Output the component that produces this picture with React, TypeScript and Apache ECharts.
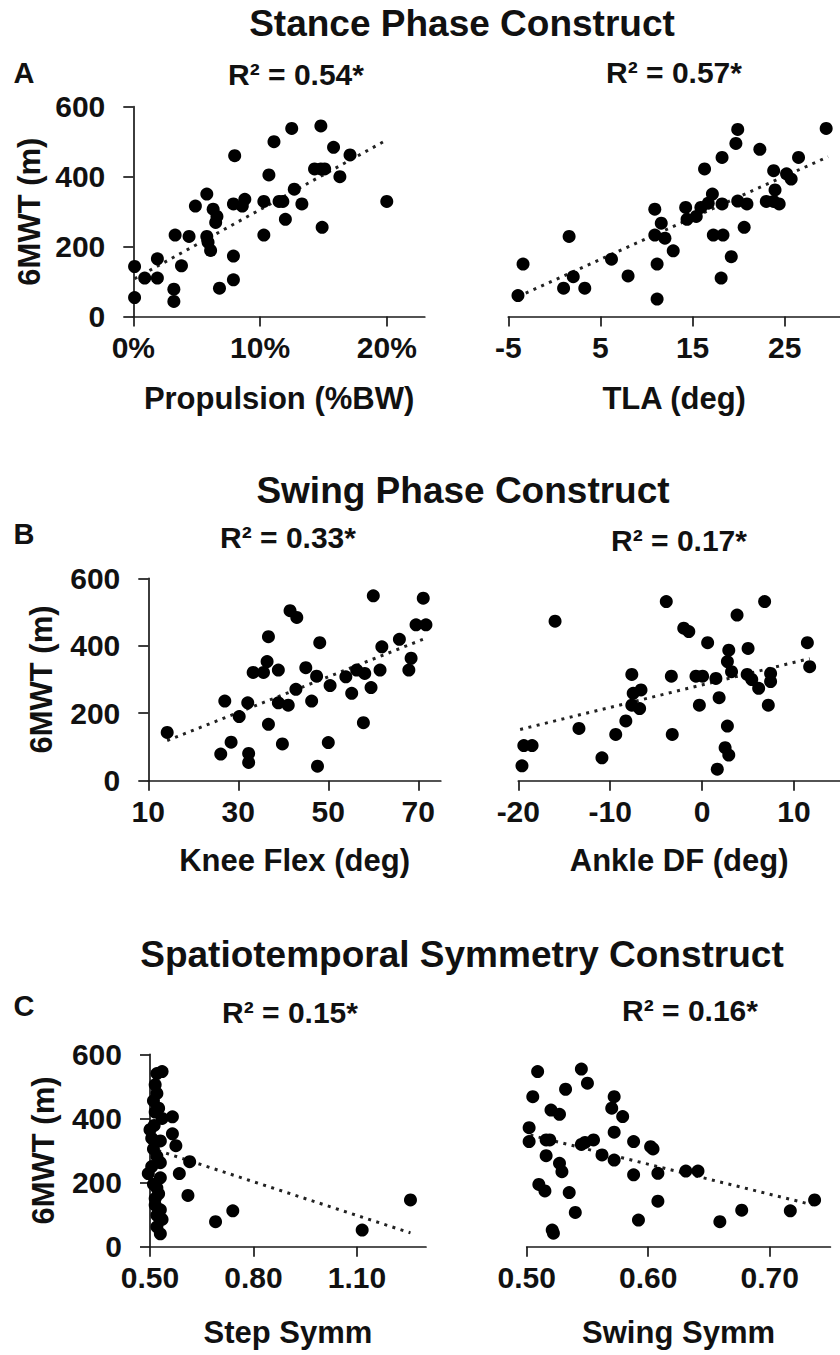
import React, { useEffect, useRef } from "react";
import * as echarts from "echarts";

// ---------- data (x, 6MWT in m) ----------
const propulsion: number[][] = [
  [0.1, 143], [0.1, 54], [0.9, 110], [1.9, 110], [1.9, 165], [3.2, 78], [3.2, 43], [3.3, 233],
  [3.8, 145], [4.4, 229], [4.9, 316], [5.8, 350], [5.8, 229], [5.9, 212], [6.1, 189], [6.3, 307],
  [6.6, 286], [6.5, 269], [6.8, 81], [7.9, 105], [7.9, 173], [8.0, 460], [7.9, 322], [8.6, 316],
  [8.8, 335], [10.3, 329], [10.3, 233], [10.7, 405], [11.1, 500], [11.5, 329], [11.8, 329], [12.0, 278],
  [12.5, 538], [12.7, 364], [13.3, 322], [14.3, 422], [14.8, 422], [15.1, 422], [14.8, 545], [14.9, 255],
  [15.8, 484], [16.3, 400], [17.1, 462], [20.0, 329],
];
const propulsionTrend: number[][] = [[0.1, 108], [20.0, 505]];

const tla: number[][] = [
  [-3.95, 60], [-3.4, 150], [1.0, 81], [1.6, 229], [2.05, 114], [3.3, 81], [6.2, 164], [8.0, 116],
  [10.9, 307], [10.9, 233], [11.15, 150], [11.15, 50], [11.6, 267], [12.0, 224], [12.9, 188], [14.25, 312],
  [14.4, 278], [15.4, 286], [15.9, 312], [16.3, 422], [16.7, 324], [17.15, 350], [17.25, 233], [18.2, 455],
  [18.2, 322], [18.3, 233], [18.1, 110], [19.2, 171], [19.7, 495], [19.9, 535], [19.9, 330], [20.6, 255],
  [20.9, 322], [22.3, 478], [23.0, 329], [23.8, 417], [23.95, 362], [23.8, 329], [24.4, 322], [25.2, 408],
  [25.7, 393], [26.5, 455], [29.5, 538],
];
const tlaTrend: number[][] = [[-3.95, 57], [29.7, 457]];

const kneeFlex: number[][] = [
  [14.2, 143], [26.1, 79], [27.0, 236], [28.4, 114], [30.2, 190], [32.1, 231], [32.3, 81], [32.3, 54],
  [33.3, 321], [35.6, 321], [36.4, 353], [36.7, 427], [36.7, 167], [38.9, 328], [38.9, 231], [39.8, 109],
  [41.1, 224], [41.5, 504], [43.0, 484], [42.8, 271], [45.0, 335], [46.3, 236], [47.4, 310], [47.6, 43],
  [48.1, 409], [50.0, 113], [50.4, 282], [53.9, 308], [55.2, 259], [56.3, 328], [57.8, 172], [58.1, 318],
  [59.5, 276], [60.0, 548], [61.5, 328], [61.9, 397], [65.8, 419], [67.9, 328], [68.4, 363], [69.5, 462],
  [71.7, 462], [71.1, 541],
];
const kneeFlexTrend: number[][] = [[14.2, 119], [71.6, 422]];

const ankleDF: number[][] = [
  [-19.6, 44], [-19.4, 104], [-18.5, 104], [-16.0, 473], [-13.4, 155], [-10.9, 68], [-9.4, 137], [-8.3, 177],
  [-7.65, 315], [-7.5, 259], [-6.65, 269], [-7.65, 224], [-6.8, 214], [-3.9, 531], [-3.35, 310], [-3.25, 137],
  [-2.0, 452], [-1.45, 442], [-0.67, 310], [0.05, 310], [-0.3, 224], [0.6, 409], [1.5, 303], [1.85, 246],
  [1.65, 34], [2.5, 98], [2.75, 162], [2.9, 76], [2.9, 387], [2.75, 353], [3.2, 323], [3.8, 491],
  [5.0, 392], [4.9, 315], [5.4, 300], [6.15, 274], [6.8, 531], [7.2, 224], [7.45, 318], [7.45, 294],
  [11.45, 409], [11.7, 338],
];
const ankleDFTrend: number[][] = [[-19.8, 152], [11.7, 362]];

const stepSymm: number[][] = [
  [0.52, 540], [0.535, 546], [0.515, 505], [0.52, 478], [0.51, 455], [0.525, 432], [0.515, 420], [0.535, 400],
  [0.565, 405], [0.5, 365], [0.512, 378], [0.565, 352], [0.505, 338], [0.53, 330], [0.575, 315], [0.51, 305],
  [0.52, 282], [0.53, 262], [0.505, 250], [0.615, 265], [0.495, 228], [0.585, 228], [0.53, 215], [0.51, 195],
  [0.52, 183], [0.525, 165], [0.515, 150], [0.61, 160], [0.53, 115], [0.515, 130], [0.52, 98], [0.535, 85],
  [0.53, 40], [0.52, 62], [0.69, 78], [0.74, 112], [1.115, 52], [1.255, 146],
];
const stepSymmTrend: number[][] = [[0.5, 308], [1.255, 43]];

const swingSymm: number[][] = [
  [0.509, 546], [0.545, 554], [0.55, 510], [0.532, 491], [0.505, 468], [0.52, 426], [0.527, 413], [0.572, 468],
  [0.57, 432], [0.579, 406], [0.502, 371], [0.502, 328], [0.516, 333], [0.519, 333], [0.545, 319], [0.548, 325],
  [0.555, 333], [0.572, 357], [0.516, 284], [0.562, 286], [0.572, 270], [0.588, 328], [0.602, 312], [0.604, 305],
  [0.527, 260], [0.529, 234], [0.588, 224], [0.608, 229], [0.631, 236], [0.641, 236], [0.51, 194], [0.515, 174],
  [0.535, 169], [0.54, 107], [0.608, 142], [0.592, 83], [0.521, 52], [0.522, 42], [0.659, 78], [0.677, 114],
  [0.717, 112], [0.737, 146],
];
const swingSymmTrend: number[][] = [[0.503, 348], [0.736, 130]];

const propTicks = [0, 10, 20];
const tlaTicks = [-5, 5, 15, 25];
const kneeTicks = [10, 30, 50, 70];
const ankleTicks = [-20, -10, 0, 10];
const stepTicks = [0.5, 0.8, 1.1];
const swingTicks = [0.5, 0.6, 0.7];

const constructTitles = ["Stance Phase Construct", "Swing Phase Construct", "Spatiotemporal Symmetry Construct"];
const panelLetters = ["A", "B", "C"];
const r2Labels = ["R² = 0.54*", "R² = 0.57*", "R² = 0.33*", "R² = 0.17*", "R² = 0.15*", "R² = 0.16*"];
const xNames = ["Propulsion (%BW)", "TLA (deg)", "Knee Flex (deg)", "Ankle DF (deg)", "Step Symm", "Swing Symm"];
const yName = "6MWT (m)";

const FONT = '"Liberation Sans", Arial, Helvetica, sans-serif';
const INK = "#111";

type Panel = {
  data: number[][];
  trend: number[][];
  min: number;
  max: number;
  ticks: number[];
  fmt: (v: number) => string;
  grid: { left: number; top: number; width: number; height: number };
  showY: boolean;
  xGap: number;
  yGap: number;
};

const panels: Panel[] = [
  { data: propulsion, trend: propulsionTrend, min: 0, max: 23, ticks: propTicks, fmt: (v) => `${v}%`,
    grid: { left: 133.3, top: 106.7, width: 291.5, height: 209.8 }, showY: true, xGap: 66, yGap: 88 },
  { data: tla, trend: tlaTrend, min: -5, max: 31, ticks: tlaTicks, fmt: (v) => `${v}`,
    grid: { left: 508.3, top: 106.7, width: 344, height: 209.8 }, showY: false, xGap: 66, yGap: 88 },
  { data: kneeFlex, trend: kneeFlexTrend, min: 10, max: 75, ticks: kneeTicks, fmt: (v) => `${v}`,
    grid: { left: 148.3, top: 578.3, width: 292.5, height: 202.4 }, showY: true, xGap: 64, yGap: 91 },
  { data: ankleDF, trend: ankleDFTrend, min: -20, max: 15, ticks: ankleTicks, fmt: (v) => `${v}`,
    grid: { left: 518.3, top: 578.3, width: 325.9, height: 202.4 }, showY: false, xGap: 64, yGap: 91 },
  { data: stepSymm, trend: stepSymmTrend, min: 0.5, max: 1.3, ticks: stepTicks, fmt: (v) => v.toFixed(2),
    grid: { left: 150, top: 1054.3, width: 276, height: 192.4 }, showY: true, xGap: 70, yGap: 91 },
  { data: swingSymm, trend: swingSymmTrend, min: 0.5, max: 0.75, ticks: swingTicks, fmt: (v) => v.toFixed(2),
    grid: { left: 526.7, top: 1054.3, width: 303.7, height: 192.4 }, showY: false, xGap: 70, yGap: 91 },
];

const titlePos = [[462, 23], [463, 490], [462, 954]];
const letterPos = [[24, 73], [24, 534], [24, 1006]];
const r2Pos = [[296, 74], [674, 72], [288, 537], [679, 540], [290, 1012], [690, 1010]];

function textEl(text: string, x: number, y: number, size: number) {
  return {
    type: "text",
    x,
    y,
    silent: true,
    style: {
      text,
      fill: INK,
      font: `bold ${size}px ${FONT}`,
      fontSize: size,
      fontWeight: "bold",
      fontFamily: FONT,
      align: "center",
      verticalAlign: "middle",
      textAlign: "center",
      textVerticalAlign: "middle",
    },
  };
}

function buildOption() {
  const axisLineStyle = { color: "#1a1a1a", width: 1.7 };
  const labelStyle = { color: INK, fontFamily: FONT, fontWeight: "bold" as const, fontSize: 30 };
  const nameStyle = { color: INK, fontFamily: FONT, fontWeight: "bold" as const, fontSize: 31 };

  const xAxis = panels.map((p, i) => ({
    type: "value",
    gridIndex: i,
    min: p.min,
    max: p.max,
    name: xNames[i],
    nameLocation: "middle",
    nameGap: p.xGap,
    nameTextStyle: nameStyle,
    axisLine: { show: true, onZero: false, lineStyle: axisLineStyle },
    axisTick: { show: true, length: 10, inside: false, lineStyle: axisLineStyle, customValues: p.ticks },
    axisLabel: { show: true, margin: 16, ...labelStyle, customValues: p.ticks, formatter: (v: number) => p.fmt(v) },
    splitLine: { show: false },
  }));

  const yAxis = panels.map((p, i) => ({
    type: "value",
    gridIndex: i,
    min: 0,
    max: 600,
    interval: 200,
    show: p.showY,
    name: p.showY ? yName : "",
    nameLocation: "middle",
    nameRotate: 90,
    nameGap: p.yGap,
    nameTextStyle: nameStyle,
    axisLine: { show: true, lineStyle: axisLineStyle },
    axisTick: { show: true, length: 10, lineStyle: axisLineStyle },
    axisLabel: { show: true, margin: 28, ...labelStyle },
    splitLine: { show: false },
  }));

  const series: any[] = [];
  panels.forEach((p, i) => {
    series.push({
      type: "line",
      xAxisIndex: i,
      yAxisIndex: i,
      data: p.trend,
      symbol: "none",
      silent: true,
      z: 1,
      lineStyle: { color: "#222", width: 3, type: [3, 5.5], cap: "butt" },
    });
    series.push({
      type: "scatter",
      xAxisIndex: i,
      yAxisIndex: i,
      data: p.data,
      symbol: "circle",
      symbolSize: 13,
      clip: false,
      silent: true,
      z: 2,
      itemStyle: { color: "#000", opacity: 1 },
    });
  });

  const graphic: any[] = [];
  constructTitles.forEach((t, i) => graphic.push(textEl(t, titlePos[i][0], titlePos[i][1], 37)));
  panelLetters.forEach((t, i) => graphic.push(textEl(t, letterPos[i][0], letterPos[i][1], 29)));
  r2Labels.forEach((t, i) => graphic.push(textEl(t, r2Pos[i][0], r2Pos[i][1], 30)));

  return {
    animation: false,
    backgroundColor: "#ffffff",
    grid: panels.map((p) => ({ ...p.grid, containLabel: false })),
    xAxis,
    yAxis,
    series,
    graphic,
  };
}

export default function App() {
  const ref = useRef<HTMLDivElement>(null);
  useEffect(() => {
    if (!ref.current) return;
    const chart = echarts.init(ref.current, undefined, { renderer: "svg" });
    chart.setOption(buildOption() as any);
    return () => chart.dispose();
  }, []);
  return (
    <div
      ref={ref}
      style={{ position: "absolute", left: 0, top: 0, width: 840, height: 1355, background: "#fff", overflow: "hidden" }}
    />
  );
}
